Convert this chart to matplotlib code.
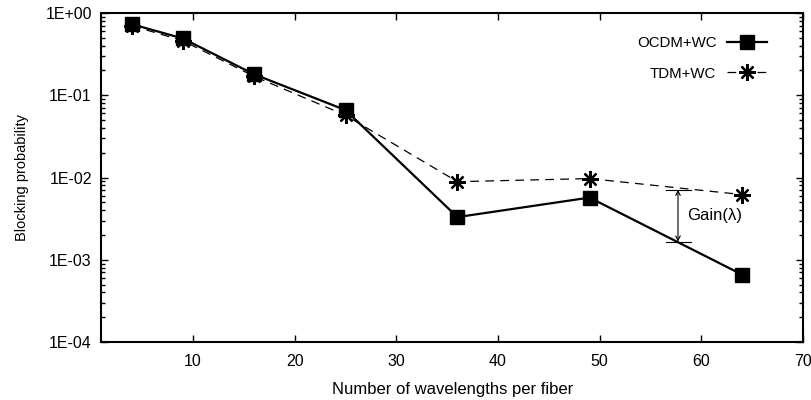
import matplotlib
matplotlib.use("Agg")
import matplotlib.pyplot as plt
from matplotlib.ticker import LogLocator, NullFormatter
import numpy as np

plt.rcParams['font.family'] = ['Liberation Sans', 'DejaVu Sans']

wavelengths = [4, 9, 16, 25, 36, 49, 64]
ocdm_wc = [0.73, 0.49, 0.18, 0.066, 0.0033, 0.0057, 0.00066]
tdm_wc = [0.70, 0.46, 0.17, 0.057, 0.0089, 0.0097, 0.0062]
gain_x = 57.7
gain_top = 0.0071
gain_bottom = 0.00166
x_ticks = [10, 20, 30, 40, 50, 60, 70]
y_ticks = [1e-4, 1e-3, 1e-2, 1e-1, 1e0]
y_labels = ["1E-04", "1E-03", "1E-02", "1E-01", "1E+00"]

fig = plt.figure(figsize=(8.12, 4.0), dpi=100)
ax = fig.add_axes([0.125, 0.145, 0.864, 0.8225])

ax.plot(wavelengths, ocdm_wc, color='black', lw=1.6, marker='s', ms=10,
        label='OCDM+WC', zorder=3)
ax.plot(wavelengths, tdm_wc, color='black', lw=0.9, ls=(0, (7, 5)),
        marker=(8, 2, 0), ms=12, mew=1.6, label='TDM+WC', zorder=2)

# Gain annotation
ax.annotate('', xy=(gain_x, gain_top), xytext=(gain_x, gain_bottom),
            arrowprops=dict(arrowstyle='<->', color='black', lw=0.8,
                            shrinkA=0, shrinkB=0, mutation_scale=8))
ax.plot([gain_x - 1.2, gain_x + 1.3], [gain_top, gain_top], color='black', lw=0.8)
ax.plot([gain_x - 1.2, gain_x + 1.3], [gain_bottom, gain_bottom], color='black', lw=0.8)
ax.text(gain_x + 0.9, np.sqrt(gain_top * gain_bottom), 'Gain(λ)',
        fontsize=12, va='center', ha='left')

ax.set_yscale('log')
ax.set_xlim(1, 70)
ax.set_ylim(1e-4, 1e0)
ax.set_xticks(x_ticks)
ax.set_yticks(y_ticks)
ax.set_yticklabels(y_labels)
ax.yaxis.set_minor_locator(LogLocator(base=10, subs=np.arange(2, 10)))
ax.yaxis.set_minor_formatter(NullFormatter())

ax.tick_params(which='both', direction='in', top=True, right=True)
ax.tick_params(axis='x', labelsize=11.5, pad=9)
ax.tick_params(axis='y', labelsize=11.5, pad=7)
ax.tick_params(which='major', length=5, width=1)
ax.tick_params(which='minor', length=3, width=1)
for s in ax.spines.values():
    s.set_linewidth(1.5)

ax.set_xlabel('Number of wavelengths per fiber', fontsize=12, labelpad=9)
ax.set_ylabel('Blocking probability', fontsize=10.5, labelpad=12)

leg = ax.legend(loc='upper right', bbox_to_anchor=(0.949, 0.93), frameon=False,
                markerfirst=False, fontsize=10.8, handlelength=2.7,
                handletextpad=0.7, labelspacing=1.1, borderaxespad=0, borderpad=0)

fig.savefig('out.png', dpi=100)
